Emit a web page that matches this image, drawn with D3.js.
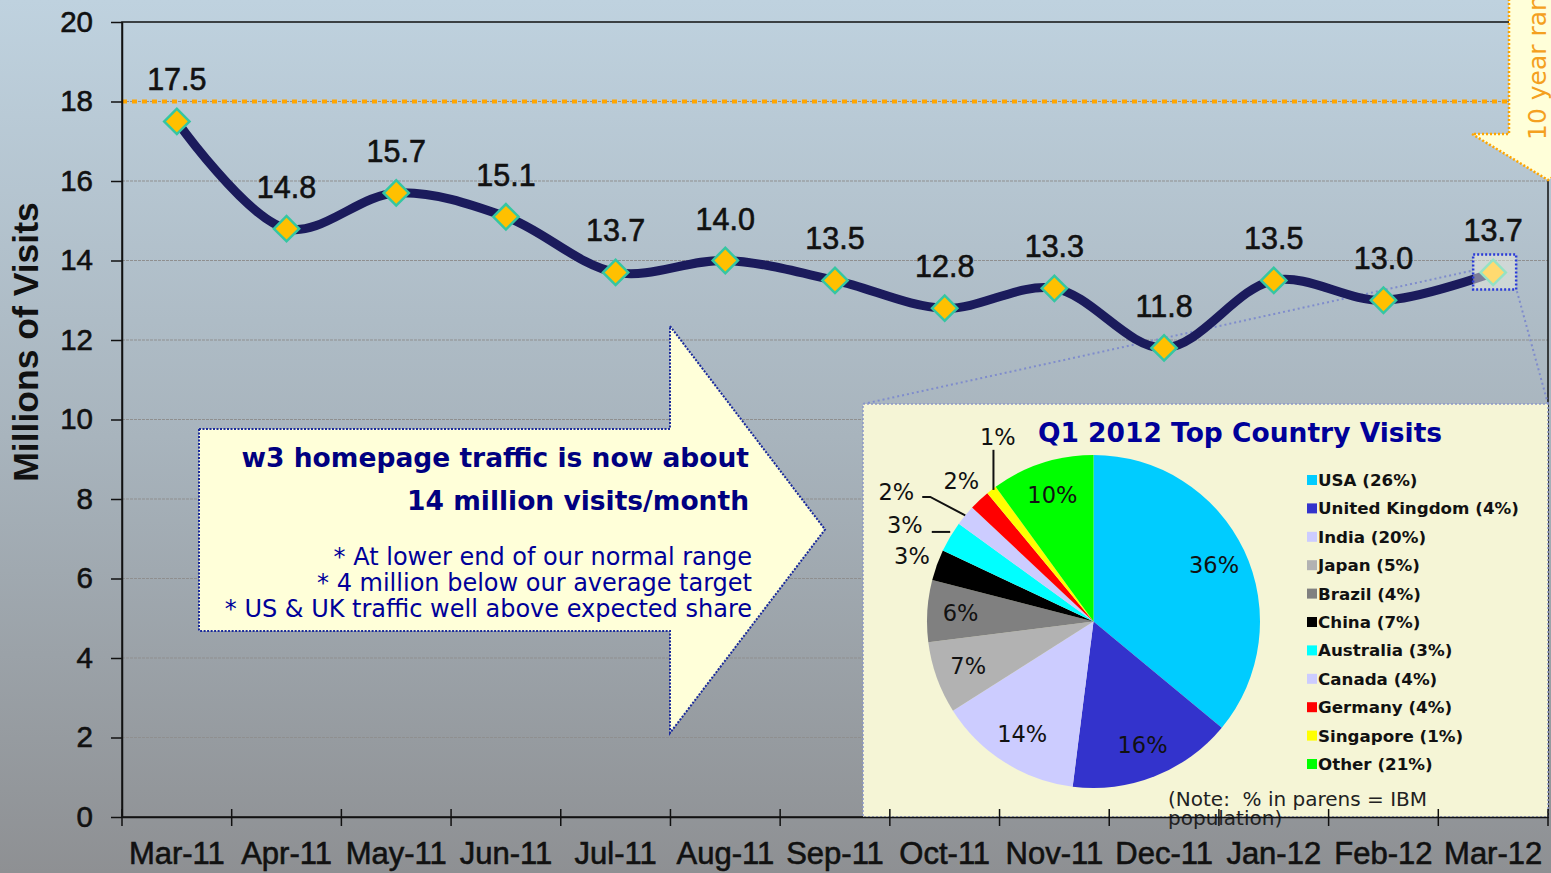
<!DOCTYPE html>
<meta charset="utf-8">
<style>
body { margin: 0; }
text { font-family: "Liberation Sans", Arial, sans-serif; }
.verd { font-family: "DejaVu Sans", Verdana, sans-serif; }
.heavy { stroke: #111; stroke-width: 0.6px; }
</style>
<svg width="1551" height="873"></svg>
<script src="https://d3js.org/d3.v7.min.js"></script>
<script>

// monthly visits, millions
var months = ["Mar-11","Apr-11","May-11","Jun-11","Jul-11","Aug-11","Sep-11","Oct-11","Nov-11","Dec-11","Jan-12","Feb-12","Mar-12"];
var visits = [17.5, 14.8, 15.7, 15.1, 13.7, 14.0, 13.5, 12.8, 13.3, 11.8, 13.5, 13.0, 13.7];
var yTicks = [0, 2, 4, 6, 8, 10, 12, 14, 16, 18, 20];
var rangeTop = 18;

// Q1 2012 country split
var countries = ["USA","United Kingdom","India","Japan","Brazil","China","Australia","Canada","Germany","Singapore","Other"];
var visitShare = [36, 16, 14, 7, 6, 3, 3, 2, 2, 1, 10];
var ibmShare = [26, 4, 20, 5, 4, 7, 3, 4, 4, 1, 21];
var sliceColors = ["#00ccff","#3333cc","#ccccff","#b2b2b2","#808080","#000000","#00ffff","#ccccff","#ff0000","#ffff00","#00ff00"];

var headline = ["w3 homepage traffic is now about", "14 million visits/month"];
var bullets = ["* At lower end of our normal range", "* 4 million below our average target", "* US & UK traffic well above expected share"];

var svg = d3.select("svg"),
    width = +svg.attr("width"),
    height = +svg.attr("height");

var plotL = 122, plotR = 1548, plotT = 22, plotB = 817;

// background
var grad = svg.append("defs").append("linearGradient").attr("id", "bg")
  .attr("x1", 0).attr("y1", 0).attr("x2", 0).attr("y2", 1);
grad.append("stop").attr("offset", "0%").attr("stop-color", "#bfd2df");
grad.append("stop").attr("offset", "50%").attr("stop-color", "#a8b4bd");
grad.append("stop").attr("offset", "100%").attr("stop-color", "#8e9093");
svg.append("rect").attr("width", width).attr("height", height).attr("fill", "url(#bg)");

var xScale = d3.scaleBand().domain(months).range([plotL, plotR]);
var yScale = d3.scaleLinear().domain([0, 20]).range([plotB, plotT]);
function px(i) { return xScale(months[i]) + xScale.bandwidth() / 2; }

// gridlines
svg.append("g").selectAll("line")
  .data(yTicks.filter(function(d) { return d > 0 && d < 20; }))
  .join("line")
  .attr("x1", plotL).attr("x2", plotR)
  .attr("y1", function(d) { return yScale(d); })
  .attr("y2", function(d) { return yScale(d); })
  .attr("stroke", "#8f8f8f").attr("stroke-width", 1).attr("stroke-dasharray", "3,1");

// 10 year range top
svg.append("line")
  .attr("x1", plotL).attr("x2", 1509)
  .attr("y1", yScale(rangeTop)).attr("y2", yScale(rangeTop))
  .attr("stroke", "#ffa500").attr("stroke-width", 4).attr("stroke-dasharray", "5,5");

// plot frame
svg.append("rect").attr("x", plotL).attr("y", plotT).attr("width", plotR - plotL).attr("height", plotB - plotT)
  .attr("fill", "none").attr("stroke", "#111").attr("stroke-width", 1.5);

// ---- pie panel ----
var last = visits.length - 1;
var selX = px(last), selY = yScale(visits[last]);
var panel = { x: 863, y: 404, w: plotR - 863, h: plotB - 404 };

svg.append("g").selectAll("line")
  .data([[panel.x, panel.y, selX - 20, selY - 2], [panel.x + panel.w, panel.y, selX + 23, selY + 16]])
  .join("line")
  .attr("x1", function(d) { return d[0]; }).attr("y1", function(d) { return d[1]; })
  .attr("x2", function(d) { return d[2]; }).attr("y2", function(d) { return d[3]; })
  .attr("stroke", "#7f8ccc").attr("stroke-width", 2).attr("stroke-dasharray", "2,3");

svg.append("rect").attr("x", panel.x).attr("y", panel.y).attr("width", panel.w).attr("height", panel.h)
  .attr("fill", "#f5f5d6").attr("stroke", "#8c98c8").attr("stroke-width", 1.5).attr("stroke-dasharray", "2,2");

svg.append("text").attr("class", "verd")
  .attr("x", 1240).attr("y", 442).attr("text-anchor", "middle")
  .attr("font-size", 26.5).attr("font-weight", "bold").attr("fill", "#000099")
  .text("Q1 2012 Top Country Visits");

var pieCx = 1093.5, pieCy = 621.5, pieR = 166.5;
var arcs = d3.pie().sort(null).value(function(d) { return d; })(visitShare);
var arc = d3.arc().innerRadius(0).outerRadius(pieR);
var pieG = svg.append("g").attr("transform", "translate(" + pieCx + "," + pieCy + ")");
pieG.selectAll("path").data(arcs).join("path")
  .attr("d", arc)
  .attr("fill", function(d, i) { return sliceColors[i]; });

function polar(angle, r) { return [Math.sin(angle) * r, -Math.cos(angle) * r]; }
function mid(d) { return (d.startAngle + d.endAngle) / 2; }
var deg = Math.PI / 180;

// label placement: inside for big slices, outside (radius, angle shift) for small ones
var outside = { 5: [193, 0], 6: [212, -3.5], 7: [236, -6.3], 8: [193, 0], 9: [208, 10.4] };
pieG.selectAll("text.pl").data(arcs).join("text")
  .attr("class", "verd pl")
  .attr("font-size", 22.5).attr("fill", "#111").attr("text-anchor", "middle")
  .attr("dy", "0.35em")
  .attr("transform", function(d, i) {
    var p = outside[i] ? polar(mid(d) + outside[i][1] * deg, outside[i][0]) : polar(mid(d), pieR * 0.8);
    return "translate(" + p[0] + "," + p[1] + ")";
  })
  .text(function(d) { return d.value + "%"; });

// leader lines for the crowded small slices
var lab6 = polar(mid(arcs[6]) + outside[6][1] * deg, outside[6][0]);
var lab7 = polar(mid(arcs[7]) + outside[7][1] * deg, outside[7][0]);
var lab9 = polar(mid(arcs[9]) + outside[9][1] * deg, outside[9][0]);
var e6 = polar(mid(arcs[6]), pieR), e7 = polar(mid(arcs[7]), pieR), e9 = polar(mid(arcs[9]), pieR);
var leaders = [
  [[lab6[0] + 27, lab6[1] + 7], [e6[0], lab6[1] + 7]],
  [[lab7[0] + 26, lab7[1] + 5], [lab7[0] + 34, lab7[1] + 5], e7],
  [[e9[0] + 2, lab9[1] + 13], [e9[0] + 2, e9[1]]]
];
pieG.selectAll("path.leader").data(leaders).join("path")
  .attr("class", "leader")
  .attr("d", d3.line())
  .attr("fill", "none").attr("stroke", "#111").attr("stroke-width", 2);

// legend
var legend = svg.append("g").attr("transform", "translate(1307,480)");
var li = legend.selectAll("g").data(countries).join("g")
  .attr("transform", function(d, i) { return "translate(0," + (i * 28.4) + ")"; });
li.append("rect").attr("x", 0).attr("y", -5).attr("width", 10).attr("height", 10)
  .attr("fill", function(d, i) { return sliceColors[i]; });
li.append("text").attr("class", "verd")
  .attr("x", 11).attr("y", 6).attr("font-size", 16.7).attr("font-weight", "bold").attr("fill", "#111")
  .text(function(d, i) { return d + " (" + ibmShare[i] + "%)"; });

svg.append("text").attr("class", "verd").attr("x", 1168).attr("y", 806)
  .attr("font-size", 20).attr("fill", "#222").style("white-space", "pre")
  .text("(Note:  % in parens = IBM");
svg.append("text").attr("class", "verd").attr("x", 1168).attr("y", 825)
  .attr("font-size", 20).attr("fill", "#222").text("population)");

// ---- message arrow ----
var ar = { x0: 199, x1: 670, y0: 429, y1: 631, hy0: 326, hy1: 733, tip: 825 };
var arrowPts = [[ar.x0, ar.y0], [ar.x1, ar.y0], [ar.x1, ar.hy0], [ar.tip, (ar.hy0 + ar.hy1) / 2],
  [ar.x1, ar.hy1], [ar.x1, ar.y1], [ar.x0, ar.y1]];
svg.append("path").attr("d", d3.line()(arrowPts) + "Z")
  .attr("fill", "#ffffd9").attr("stroke", "#1a2a9c").attr("stroke-width", 2).attr("stroke-dasharray", "2,1.5");

svg.append("g").selectAll("text").data(headline).join("text")
  .attr("class", "verd").attr("x", 749).attr("y", function(d, i) { return 467 + i * 43; })
  .attr("text-anchor", "end").attr("font-size", 26.5).attr("font-weight", "bold").attr("fill", "#000080")
  .text(function(d) { return d; });
svg.append("g").selectAll("text").data(bullets).join("text")
  .attr("class", "verd").attr("x", 752).attr("y", function(d, i) { return 565 + i * 26.2; })
  .attr("text-anchor", "end").attr("font-size", 24).attr("fill", "#000099")
  .text(function(d) { return d; });

// ---- the series ----
var line = d3.line()
  .x(function(d, i) { return px(i); })
  .y(function(d) { return yScale(d); })
  .curve(d3.curveCatmullRom.alpha(0.5));
svg.append("path").datum(visits).attr("d", line)
  .attr("fill", "none").attr("stroke", "#1b1b5c").attr("stroke-width", 9).attr("stroke-linejoin", "round");

// selected last point box
svg.append("rect").attr("x", selX - 20).attr("y", selY - 18).attr("width", 43).attr("height", 35)
  .attr("fill", "#f4f4e4").attr("fill-opacity", 0.45)
  .attr("stroke", "#2a3ad8").attr("stroke-width", 2.5).attr("stroke-dasharray", "2,2");

var diamond = d3.symbol().type(d3.symbolSquare).size(320);
svg.append("g").selectAll("path").data(visits).join("path")
  .attr("d", diamond)
  .attr("transform", function(d, i) { return "translate(" + px(i) + "," + yScale(d) + ") rotate(45)"; })
  .attr("fill", function(d, i) { return i === last ? "#ffda70" : "#ffc000"; })
  .attr("stroke", function(d, i) { return i === last ? "#95e2c4" : "#35c6a2"; })
  .attr("stroke-width", 2.5);

svg.append("g").selectAll("text").data(visits).join("text")
  .attr("class", "heavy")
  .attr("x", function(d, i) { return px(i); })
  .attr("y", function(d) { return yScale(d) - 31; })
  .attr("text-anchor", "middle").attr("font-size", 30.5).attr("fill", "#111")
  .text(function(d) { return d.toFixed(1); });

// ---- axes ----
var yAxis = svg.append("g").attr("transform", "translate(" + plotL + ",0)")
  .call(d3.axisLeft(yScale).tickValues(yTicks).tickSize(11).tickSizeOuter(0).tickPadding(18));
yAxis.select(".domain").attr("stroke", "#111").attr("stroke-width", 1.5);
yAxis.selectAll(".tick line").attr("stroke", "#111").attr("stroke-width", 1.5);
yAxis.selectAll("text").attr("class", "heavy").attr("font-size", 29.5).attr("fill", "#111")
  .attr("font-family", "'Liberation Sans', Arial, sans-serif");

svg.append("text")
  .attr("transform", "translate(38,342) rotate(-90)")
  .attr("text-anchor", "middle").attr("font-size", 35.5).attr("font-weight", "bold").attr("fill", "#111")
  .text("Millions of Visits");

var xAxis = svg.append("g").attr("transform", "translate(0," + plotB + ")")
  .call(d3.axisBottom(xScale).tickSize(0).tickPadding(25));
xAxis.select(".domain").attr("stroke", "#111").attr("stroke-width", 1.5);
xAxis.selectAll("text").attr("class", "heavy").attr("font-size", 31).attr("fill", "#111")
  .attr("font-family", "'Liberation Sans', Arial, sans-serif");

// boundary ticks between months
var bounds = months.map(function(m) { return xScale(m); }).concat([plotR]);
svg.append("g").selectAll("line").data(bounds).join("line")
  .attr("x1", function(d) { return d; }).attr("x2", function(d) { return d; })
  .attr("y1", plotB - 8).attr("y2", plotB + 9)
  .attr("stroke", "#111").attr("stroke-width", 1.5);

// ---- 10 year range callout ----
var co = { x0: 1509, x1: 1587, yb: 134, sh: 1472, tip: 180 };
var coPts = [[co.x0, -5], [co.x0, co.yb], [co.sh, co.yb], [(co.x0 + co.x1) / 2, co.tip],
  [co.x1 + (co.x0 - co.sh), co.yb], [co.x1, co.yb], [co.x1, -5]];
svg.append("path").attr("d", d3.line()(coPts) + "Z")
  .attr("fill", "#ffffd9").attr("stroke", "#ffa500").attr("stroke-width", 2.5).attr("stroke-dasharray", "2,2");
svg.append("text")
  .attr("class", "verd")
  .attr("transform", "translate(1546,140) rotate(-90)")
  .attr("font-size", 25).attr("fill", "#f4a020")
  .text("10 year range");

</script>
